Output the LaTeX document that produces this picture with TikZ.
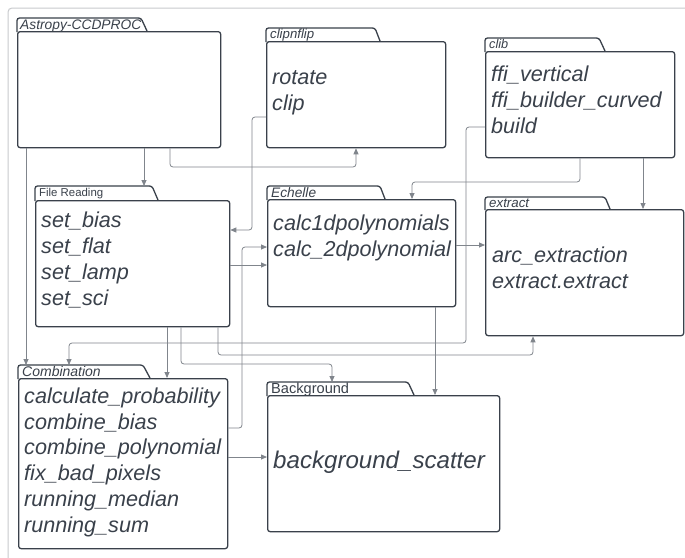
\documentclass[tikz,border=0pt]{standalone}
\usepackage{fontspec}
\setmainfont{Liberation Sans}
\usetikzlibrary{arrows.meta,calc}
\definecolor{ink}{HTML}{3A414B}
\definecolor{wirec}{HTML}{80858C}
\definecolor{framec}{HTML}{C8CACD}
\begin{document}
\begin{tikzpicture}[x=1pt,y=-1pt,
  body/.style={draw=ink, line width=1.3pt, rounded corners=2.5pt, fill=white, inner sep=0pt, anchor=north west},
  tabshape/.style={draw=ink, line width=1.3pt, rounded corners=2.5pt},
  wire/.style={draw=wirec, line width=0.8pt, rounded corners=3pt},
  arr/.style={wire, -{Triangle[length=6pt,width=5pt]}},
  item/.style={font=\fontsize{21.6}{25.7}\selectfont\itshape, text=ink, align=left, anchor=base west, inner sep=0pt},
  tablabel/.style={text=ink, anchor=base west, inner sep=0pt}]
\useasboundingbox (0,0) rectangle (685,557);
\fill[white] (0,0) rectangle (685,557);
\draw[framec, line width=1pt, rounded corners=4pt] (8,560) -- (8,8) -- (690,8);

% ---------- packages ----------
% Astropy-CCDPROC
\node[body, minimum width=203, minimum height=116] (A) at (17,31) {};
\draw[tabshape] (17,32) -- (17,18) -- (141,18) -- (147,31);
\node[tablabel, font=\fontsize{13.8}{16}\selectfont\itshape] (Al) at (20,29) {Astropy-CCDPROC};

% clipnflip
\node[body, minimum width=179, minimum height=106] (cf) at (266,41) {};
\draw[tabshape] (266,42) -- (266,28) -- (375,28) -- (380,41);
\node[tablabel, font=\fontsize{13.2}{16}\selectfont\itshape] (cfl) at (270,38.5) {clipnflip};
\node[item] (cft) at (272,110) {rotate\\clip};

% clib
\node[body, minimum width=189, minimum height=106] (cl) at (485,51) {};
\draw[tabshape] (485,52) -- (485,38) -- (599,38) -- (605,51);
\node[tablabel, font=\fontsize{12.7}{16}\selectfont\itshape] (cll) at (489,48.5) {clib};
\node[item] (clt) at (491,133) {ffi\_vertical\\ffi\_builder\_curved\\build};

% File Reading
\node[body, minimum width=194, minimum height=126] (fr) at (35,200) {};
\draw[tabshape] (35,201) -- (35,186) -- (152,186) -- (158,200);
\node[tablabel, font=\fontsize{11.4}{14}\selectfont] (frl) at (39,196.5) {File Reading};
\node[item] (frt) at (41,305) {set\_bias\\set\_flat\\set\_lamp\\set\_sci};

% Echelle
\node[body, minimum width=188, minimum height=107] (ech) at (267,199) {};
\draw[tabshape] (267,200) -- (267,186) -- (380,186) -- (385,199);
\node[tablabel, font=\fontsize{13.7}{16}\selectfont\itshape] (echl) at (271,197) {Echelle};
\node[item] (echt) at (273,256) {calc1dpolynomials\\calc\_2dpolynomial};

% extract
\node[body, minimum width=198, minimum height=126] (ext) at (485,209) {};
\draw[tabshape] (485,210) -- (485,197) -- (605,197) -- (610,209);
\node[tablabel, font=\fontsize{13.3}{16}\selectfont\itshape] (extl) at (489,207) {extract};
\node[item] (extt) at (492,288) {arc\_extraction\\extract.extract};

% Combination
\node[body, minimum width=209, minimum height=170] (comb) at (18,378) {};
\draw[tabshape] (18,379) -- (18,365) -- (143,365) -- (150,378);
\node[tablabel, font=\fontsize{14}{16}\selectfont\itshape] (combl) at (22,376.5) {Combination};
\node[item] (combt) at (24,532) {calculate\_probability\\combine\_bias\\combine\_polynomial\\fix\_bad\_pixels\\running\_median\\running\_sum};

% Background
\node[body, minimum width=232, minimum height=136] (bg) at (267,395) {};
\draw[tabshape] (267,396) -- (267,382) -- (408,382) -- (414,395);
\node[tablabel, font=\fontsize{14.6}{16}\selectfont] (bgl) at (271,393) {Background};
\node[item, font=\fontsize{24.1}{28}\selectfont\itshape] (bgt) at (273,468) {background\_scatter};

% tab-top coordinates
\coordinate (frtab) at (35,186);
\coordinate (combtab) at (18,365);
\coordinate (bgtab) at (267,382);

% ---------- connectors ----------
\draw[arr] (144,0 |- A.south) -- (144,0 |- frtab);
\draw[arr] (170,0 |- A.south) -- (170,167) -- (356,167) -- (356,0 |- cf.south);
\draw[arr] (26,0 |- A.south) -- (26,0 |- combtab);
\draw[arr] (cf.west |- 0,117) -- (252,117) -- (252,230) -- (fr.east |- 0,230);
\draw[arr] (cl.west |- 0,127) -- (466,127) -- (466,343) -- (69,343) -- (69,0 |- combtab);
\draw[arr] (580,0 |- cl.south) -- (580,182) -- (412,182) -- (412,0 |- ech.north);
\draw[arr] (643,0 |- cl.south) -- (643,0 |- ext.north);
\draw[arr] (fr.east |- 0,265) -- (ech.west |- 0,265);
\draw[arr] (comb.east |- 0,428) -- (242,428) -- (242,247) -- (ech.west |- 0,247);
\draw[arr] (ech.east |- 0,245) -- (ext.west |- 0,245);
\draw[arr] (435,0 |- ech.south) -- (435,0 |- bg.north);
\draw[arr] (167,0 |- fr.south) -- (167,0 |- comb.north);
\draw[arr] (181,0 |- fr.south) -- (181,364) -- (332,364) -- (332,0 |- bgtab);
\draw[arr] (218,0 |- fr.south) -- (218,355) -- (533,355) -- (533,0 |- ext.south);
\draw[arr] (comb.east |- 0,457) -- (bg.west |- 0,457);
\end{tikzpicture}
\end{document}
